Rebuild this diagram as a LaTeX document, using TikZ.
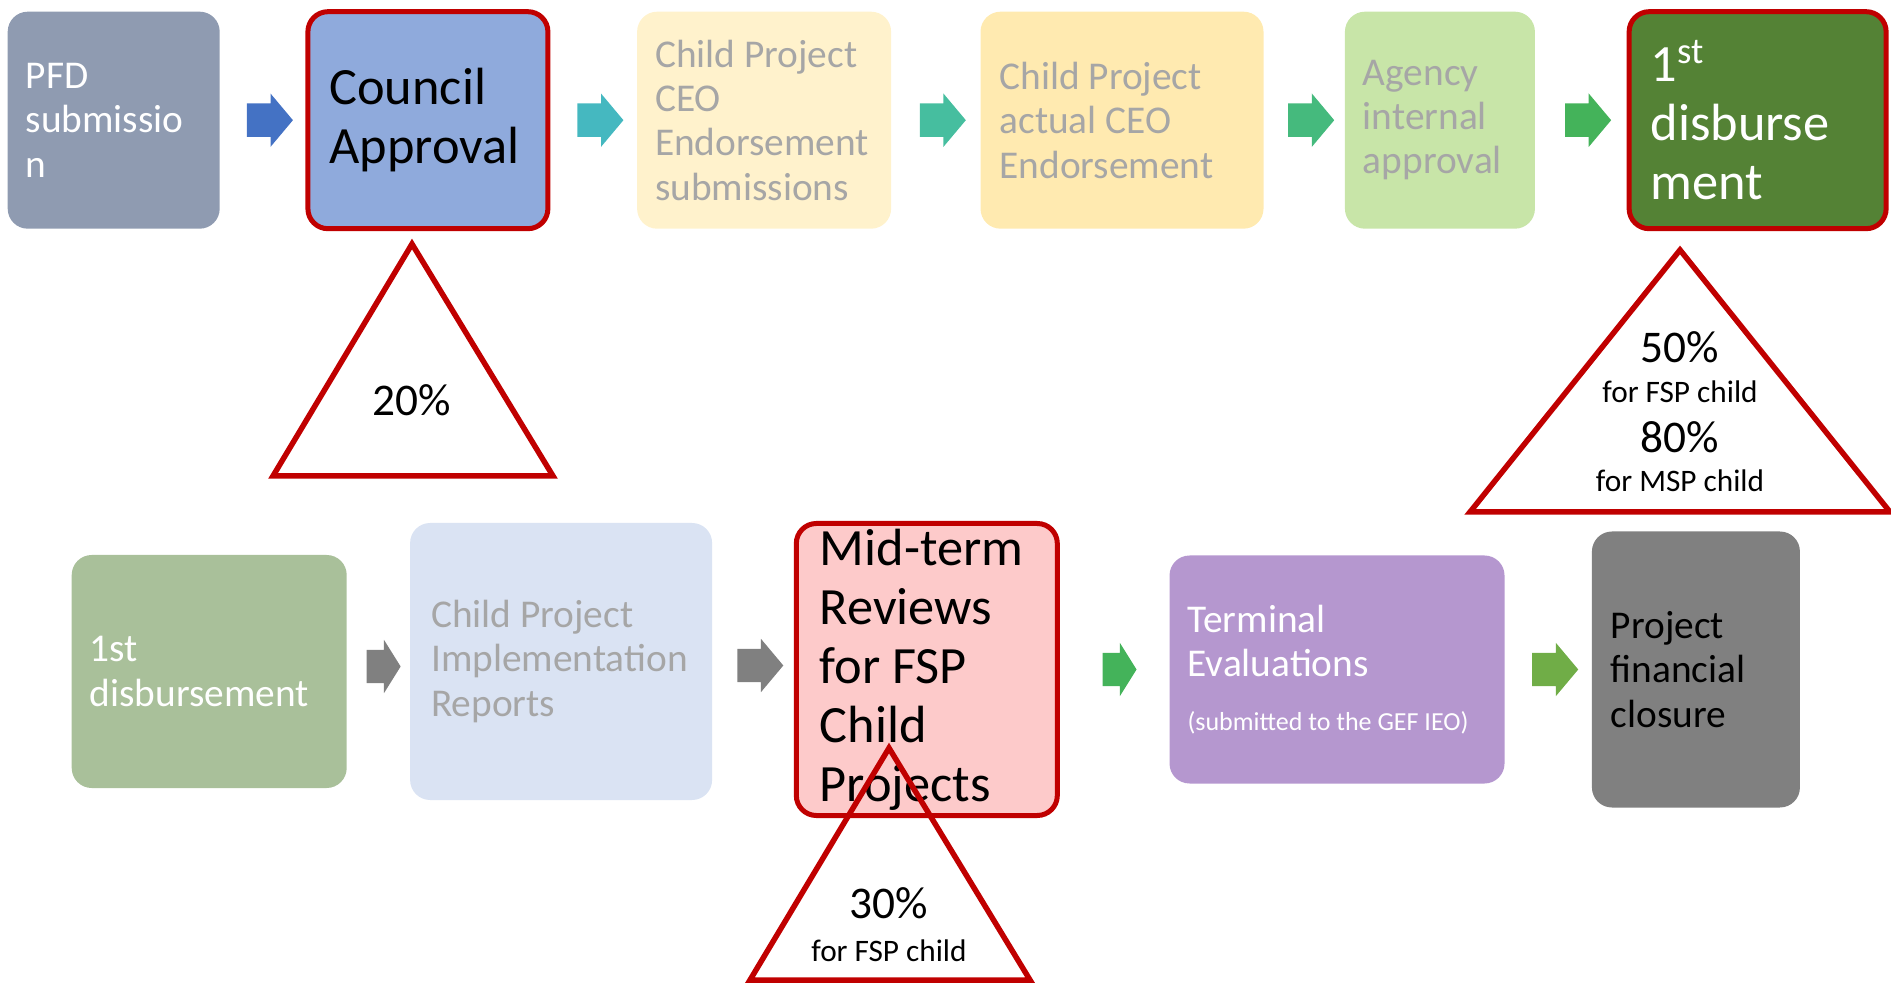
\documentclass[tikz,border=0pt]{standalone}
\usepackage{fontspec}
\setmainfont{Carlito}
\usetikzlibrary{positioning, calc, shapes.arrows}

\definecolor{pfdblue}{HTML}{8F9BB1}
\definecolor{councilblue}{HTML}{8FAADC}
\definecolor{cream}{HTML}{FFF2CC}
\definecolor{sand}{HTML}{FFEAB0}
\definecolor{mint}{HTML}{C8E5A8}
\definecolor{forest}{HTML}{548235}
\definecolor{sage}{HTML}{A9C09A}
\definecolor{paleblue}{HTML}{DAE3F3}
\definecolor{blush}{HTML}{FDCACA}
\definecolor{lilac}{HTML}{B597CF}
\definecolor{slate}{HTML}{808080}
\definecolor{keyred}{HTML}{C00000}
\definecolor{softgrey}{HTML}{A6A6A6}
\definecolor{arrowblue}{HTML}{4472C4}
\definecolor{arrowteal}{HTML}{45B8C0}
\definecolor{arrowsea}{HTML}{46BE9F}
\definecolor{arrowjade}{HTML}{45BA7D}
\definecolor{arrowleaf}{HTML}{44B35A}
\definecolor{arrowgrass}{HTML}{70AD47}

\newcommand{\stagefont}{\fontsize{11.2}{12.6}\selectfont}
\newcommand{\keyfont}{\fontsize{14.9}{16.8}\selectfont}
\newcommand{\pctfont}{\fontsize{12.9}{15}\selectfont}
\newcommand{\forfont}{\fontsize{8.9}{10.5}\selectfont}
\newcommand{\notefont}{\fontsize{7.4}{9}\selectfont}

\begin{document}
\begin{tikzpicture}[
    % Styles
    stage/.style={rounded corners=0.2cm, align=flush left, inner ysep=0pt, font=\stagefont, text=softgrey},
    keystage/.style={stage, draw=keyred, line width=0.05cm, font=\keyfont, text=black},
    flow/.style={single arrow, inner xsep=0pt, inner ysep=0.16cm, single arrow head extend=0.1cm, single arrow tip angle=100, minimum height=0.46cm},
    stub/.style={flow, minimum height=0.34cm, single arrow tip angle=116},
    flag/.style={draw=keyred, line width=0.055cm},
    pct/.style={font=\pctfont},
    forwhom/.style={font=\forfont},
]
\useasboundingbox (0,0) rectangle (18.91,-9.85);

% Top row (first box absolute, the rest relative)
\node[stage, fill=pfdblue, text=white, text width=1.76cm, inner xsep=0.18cm, minimum height=2.17cm, anchor=north west] (pfd) at (0.07,-0.11) {PFD\\submissio\\n};
\node[keystage, fill=councilblue, text width=1.97cm, inner xsep=0.215cm, minimum height=2.17cm, right=0.85cm of pfd] (council) {Council\\Approval};
\node[stage, fill=cream, text width=2.18cm, inner xsep=0.18cm, minimum height=2.17cm, right=0.86cm of council] (ceosub) {Child Project\\CEO\\Endorsement\\submissions};
\node[stage, fill=sand, text width=2.45cm, inner xsep=0.19cm, minimum height=2.17cm, right=0.88cm of ceosub] (ceoact) {Child Project\\actual CEO\\Endorsement};
\node[stage, fill=mint, text width=1.54cm, inner xsep=0.18cm, minimum height=2.17cm, right=0.80cm of ceoact] (agency) {Agency\\internal\\approval};
\node[keystage, fill=forest, text=white, text width=2.14cm, inner xsep=0.215cm, minimum height=2.17cm, right=0.91cm of agency] (firstpay) {1\textsuperscript{st}\\disburse\\ment};

% Block arrows between the top boxes
\node[flow, fill=arrowblue] (go1) at ($(pfd.east)!0.5!(council.west)$) {};
\node[flow, fill=arrowteal] (go2) at ($(council.east)!0.5!(ceosub.west)$) {};
\node[flow, fill=arrowsea] (go3) at ($(ceosub.east)!0.5!(ceoact.west)$) {};
\node[flow, fill=arrowjade] (go4) at ($(ceoact.east)!0.5!(agency.west)$) {};
\node[flow, fill=arrowleaf] (go5) at ($(agency.east)!0.5!(firstpay.west)$) {};

% Bottom row
\node[stage, fill=sage, text=white, text width=2.39cm, inner xsep=0.18cm, minimum height=2.33cm, anchor=west] (bfirstpay) at (0.71,-6.715) {1st\\disbursement};
\node[stage, fill=paleblue, text width=2.60cm, inner xsep=0.21cm, minimum height=2.77cm, right=0.62cm of bfirstpay, yshift=0.1cm] (implrep) {Child Project\\Implementation\\Reports};
\node[keystage, fill=blush, text width=2.14cm, inner xsep=0.235cm, minimum height=2.92cm, right=0.81cm of implrep, yshift=-0.08cm] (midterm) {Mid-term\\Reviews\\for FSP\\Child\\Projects};
\node[stage, fill=lilac, text=white, text width=2.99cm, inner xsep=0.18cm, minimum height=2.28cm, right=1.09cm of midterm] (terminal) {Terminal\\Evaluations\\[0.1cm]{\notefont\mbox{(submitted to the GEF IEO)}}};
\node[stage, fill=slate, text=black, text width=1.70cm, inner xsep=0.19cm, minimum height=2.76cm, right=0.86cm of terminal] (closure) {Project\\financial\\closure};

% Block arrows between the bottom boxes
\node[stub, fill=slate] (go6) at ($(bfirstpay.east)!0.5!(implrep.west)$) {};
\node[flow, fill=slate] (go7) at ($(implrep.east)!0.5!(midterm.west)$) {};
\node[stub, fill=arrowleaf] (go8) at ($(midterm.east)!0.5!(terminal.west)$) {};
\node[flow, fill=arrowgrass] (go9) at ($(terminal.east)!0.5!(closure.west)$) {};

% Payment triangles (drawn over the boxes)
\draw[flag] (4.12,-2.44) -- (5.53,-4.76) -- (2.73,-4.76) -- cycle;
\node[pct] (share20) at (4.12,-4.00) {20\%};

\draw[flag] (16.80,-2.50) -- (18.90,-5.12) -- (14.70,-5.12) -- cycle;
\node[pct] (share50) at (16.80,-3.47) {50\%};
\node[forwhom] (fsp50) at (16.80,-3.92) {for FSP child};
\node[pct] (share80) at (16.80,-4.37) {80\%};
\node[forwhom] (msp80) at (16.80,-4.81) {for MSP child};

\draw[flag] (8.89,-7.48) -- (10.30,-9.80) -- (7.50,-9.80) -- cycle;
\node[pct] (share30) at (8.89,-9.03) {30\%};
\node[forwhom] (fsp30) at (8.89,-9.51) {for FSP child};

\end{tikzpicture}
\end{document}
